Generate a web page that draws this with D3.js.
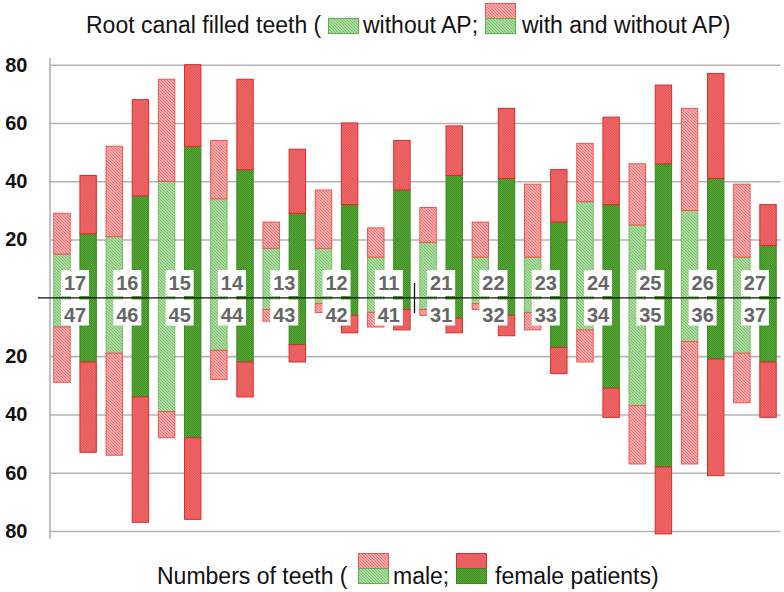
<!DOCTYPE html>
<html>
<head>
<meta charset="utf-8">
<script src="https://cdn.jsdelivr.net/npm/d3@7"></script>
<style>
  html, body { margin: 0; padding: 0; background: #fff; }
  svg { display: block; font-family: "Liberation Sans", Arial, sans-serif; }
</style>
</head>
<body>
<svg id="chart" width="784" height="592"></svg>
<script>
// ---- Data ----
const upperTeeth = ["17","16","15","14","13","12","11","21","22","23","24","25","26","27"];
const lowerTeeth = ["47","46","45","44","43","42","41","31","32","33","34","35","36","37"];

// Upper jaw (maxilla): without AP / total (with and without AP)
const upperMaleWithout   = [15,21,40,34,17,17,14,19,14,14,33,25,30,14];
const upperMaleTotal     = [29,52,75,54,26,37,24,31,26,39,53,46,65,39];
const upperFemaleWithout = [22,35,52,44,29,32,37,42,41,26,32,46,41,18];
const upperFemaleTotal   = [42,68,80,75,51,60,54,59,65,44,62,73,77,32];

// Lower jaw (mandible)
const lowerMaleWithout   = [10,19,39,18,4,2,5,4,2,5,11,37,15,19];
const lowerMaleTotal     = [29,54,48,28,8,5,10,6,4,11,22,57,57,36];
const lowerFemaleWithout = [22,34,48,22,16,6,4,7,6,17,31,58,21,22];
const lowerFemaleTotal   = [53,77,76,34,22,12,11,12,13,26,41,81,61,41];

const yTicks = [-80,-60,-40,-20,20,40,60,80];

// ---- Setup ----
const svg = d3.select("#chart");
const plotLeft = 49.5, plotRight = 780.5;

const barIds = d3.range(upperTeeth.length * 2);
const x = d3.scaleBand().domain(barIds).range([48.9, 781.1]).paddingInner(0.335).paddingOuter(0.1675);
const y = d3.scaleLinear().domain([-82.5, 82.5]).range([538.3, 57.4]);

// ---- Patterns ----
const defs = svg.append("defs");
function hatch(id, bg, fg, size, sw) {
  const p = defs.append("pattern").attr("id", id)
    .attr("patternUnits", "userSpaceOnUse").attr("width", size).attr("height", size);
  p.append("rect").attr("width", size).attr("height", size).attr("fill", bg);
  p.append("path")
    .attr("d", `M0,0 L${size},${size} M-1,${size-1} L1,${size+1} M${size-1},-1 L${size+1},1`)
    .attr("stroke", fg).attr("stroke-width", sw);
}
hatch("gLight", "#c6e6bf", "#74bf64", 3, 1.1);
hatch("gDark",  "#5aaa3a", "#3a8a20", 2, 0.9);
hatch("rLight", "#ffc4c4", "#f26e6e", 3, 1.1);
hatch("rDark",  "#f58080", "#e04040", 2.5, 0.9);

const style = {
  m: { green: "url(#gLight)", gStroke: "#72bc62", red: "url(#rLight)", rStroke: "#f05252" },
  f: { green: "url(#gDark)",  gStroke: "#378a20", red: "url(#rDark)",  rStroke: "#dc2a2a" }
};

// ---- Grid + axis ----
const axis = d3.axisLeft(y).tickValues(yTicks).tickFormat(d => Math.abs(d))
  .tickSize(-(plotRight - plotLeft)).tickSizeOuter(0).tickPadding(22);
const gAxis = svg.append("g").attr("transform", `translate(${plotLeft},0)`).call(axis);
gAxis.select(".domain").attr("stroke", "#a8a8a8").attr("stroke-width", 1.4);
gAxis.selectAll(".tick line").attr("stroke", "#b4b4b4").attr("stroke-width", 1.6);
gAxis.selectAll(".tick text").attr("fill", "#111").attr("font-size", 20).attr("font-weight", "bold")
  .attr("font-family", "'Liberation Sans', Arial, sans-serif");

// ---- Bars ----
const bars = [];
upperTeeth.forEach((t, i) => {
  bars.push({ id: 2*i,   sex: "m", sign: 1,  without: upperMaleWithout[i],   total: upperMaleTotal[i] });
  bars.push({ id: 2*i+1, sex: "f", sign: 1,  without: upperFemaleWithout[i], total: upperFemaleTotal[i] });
  bars.push({ id: 2*i,   sex: "m", sign: -1, without: lowerMaleWithout[i],   total: lowerMaleTotal[i] });
  bars.push({ id: 2*i+1, sex: "f", sign: -1, without: lowerFemaleWithout[i], total: lowerFemaleTotal[i] });
});

const gBars = svg.append("g");
bars.forEach(b => {
  const bx = x(b.id) + 0.5, bw = x.bandwidth() - 1;
  const s = style[b.sex];
  const y0 = y(0), yW = y(b.sign * b.without), yT = y(b.sign * b.total);
  gBars.append("rect").attr("x", bx).attr("width", bw)
    .attr("y", Math.min(y0, yW)).attr("height", Math.abs(yW - y0))
    .attr("fill", s.green).attr("stroke", s.gStroke).attr("stroke-width", 1);
  gBars.append("rect").attr("x", bx).attr("width", bw)
    .attr("y", Math.min(yW, yT)).attr("height", Math.abs(yT - yW))
    .attr("fill", s.red).attr("stroke", s.rStroke).attr("stroke-width", 1);
});

// ---- Tooth labels ----
const gLab = svg.append("g");
upperTeeth.forEach((t, i) => {
  const cx = (x(2*i) + x(2*i+1) + x.bandwidth()) / 2;
  gLab.append("rect").attr("x", cx - 14).attr("y", 270).attr("width", 28).attr("height", 26).attr("fill", "#fff");
  gLab.append("rect").attr("x", cx - 14).attr("y", 299.5).attr("width", 28).attr("height", 26).attr("fill", "#fff");
  gLab.append("text").attr("x", cx).attr("y", 289.5).attr("text-anchor", "middle")
    .attr("font-size", 20).attr("font-weight", "bold").attr("fill", "#666").text(t);
  gLab.append("text").attr("x", cx).attr("y", 321.7).attr("text-anchor", "middle")
    .attr("font-size", 20).attr("font-weight", "bold").attr("fill", "#666").text(lowerTeeth[i]);
});

// ---- Zero line and midline divider ----
svg.append("line").attr("x1", 38).attr("x2", plotRight).attr("y1", y(0)).attr("y2", y(0))
  .attr("stroke", "#111").attr("stroke-width", 1.3);
const midX = x(13) + x.bandwidth() + (x.step() - x.bandwidth()) / 2 - 0.5;
svg.append("line").attr("x1", midX).attr("x2", midX).attr("y1", 283).attr("y2", 313)
  .attr("stroke", "#111").attr("stroke-width", 1.3);

// ---- Legends ----
function swatch(g, sx, sy, fill, stroke) {
  g.append("rect").attr("x", sx).attr("y", sy).attr("width", 30).attr("height", 15)
    .attr("fill", fill).attr("stroke", stroke).attr("stroke-width", 1);
}
const fs = 23;
const gTop = svg.append("g");
const topBase = 33;
gTop.append("text").attr("x", 86).attr("y", topBase).attr("font-size", fs).attr("fill", "#111").text("Root canal filled teeth (");
swatch(gTop, 328.5, 18.5, "url(#gLight)", "#5cb04a");
gTop.append("text").attr("x", 363).attr("y", topBase).attr("font-size", fs).attr("fill", "#111").text("without AP;");
swatch(gTop, 485.5, 3.5, "url(#rLight)", "#f05252");
swatch(gTop, 485.5, 18.5, "url(#gLight)", "#5cb04a");
gTop.append("text").attr("x", 522).attr("y", topBase).attr("font-size", fs).attr("fill", "#111").text("with and without AP)");

const gBot = svg.append("g");
const botBase = 584;
gBot.append("text").attr("x", 157).attr("y", botBase).attr("font-size", fs).attr("fill", "#111").text("Numbers of teeth (");
swatch(gBot, 358.5, 553.5, "url(#rLight)", "#f05252");
swatch(gBot, 358.5, 568.5, "url(#gLight)", "#5cb04a");
gBot.append("text").attr("x", 393).attr("y", botBase).attr("font-size", fs).attr("fill", "#111").text("male;");
swatch(gBot, 456.5, 553.5, "url(#rDark)", "#dc2a2a");
swatch(gBot, 456.5, 568.5, "url(#gDark)", "#378a20");
gBot.append("text").attr("x", 495).attr("y", botBase).attr("font-size", fs).attr("fill", "#111").text("female patients)");
</script>
</body>
</html>
